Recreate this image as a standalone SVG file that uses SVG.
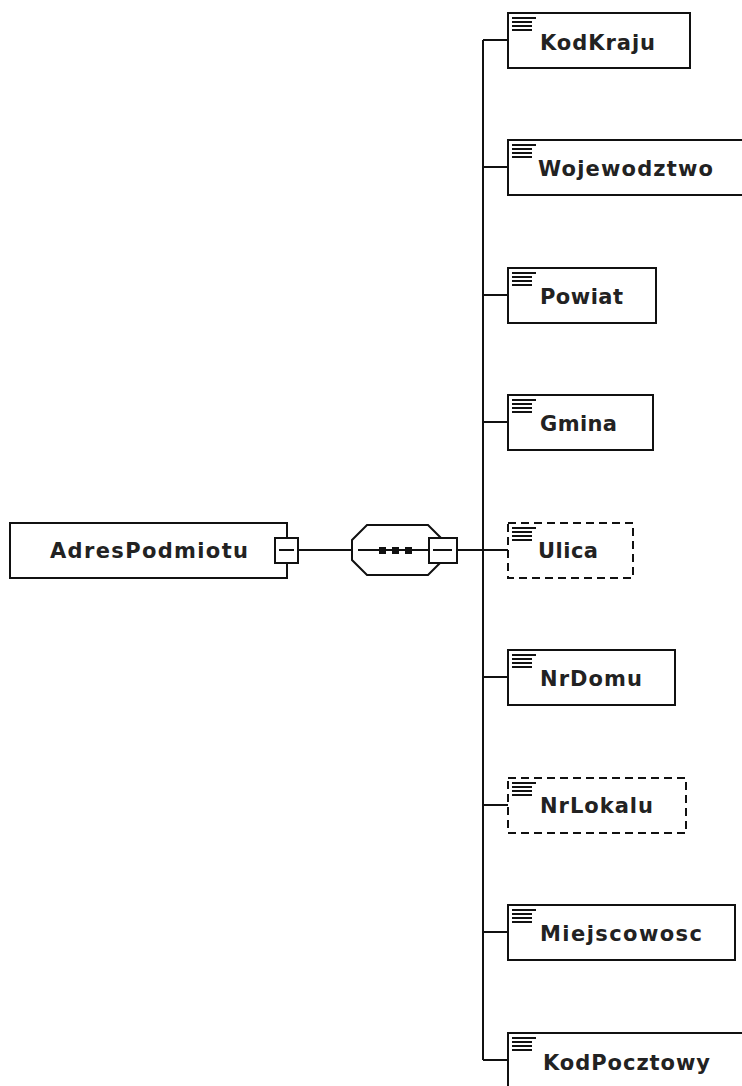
<svg xmlns="http://www.w3.org/2000/svg" width="742" height="1086" viewBox="0 0 742 1086">
<style>
.box{fill:#fff;stroke:#111;stroke-width:2}
.opt{fill:#fff;stroke:#111;stroke-width:2;stroke-dasharray:8 5}
.ln{fill:none;stroke:#111;stroke-width:2}
.ic{stroke:#111;stroke-width:2}
.t{font-family:"DejaVu Sans",Verdana,sans-serif;font-weight:bold;font-size:21px;fill:#222}
</style>
<defs>
<g id="icon"><path class="ic" d="M4 5H28M4 9H24M4 13H24M4 17H24"/></g>
</defs>
<rect width="742" height="1086" fill="#fff"/>
<g id="connectors">
<path class="ln" d="M298 550H352M457 550H508M483 40V1060M483 40H508M483 167H508M483 295H508M483 422H508M483 677H508M483 805H508M483 932H508M483 1060H508"/>
</g>
<g id="AdresPodmiotu">
<rect class="box" x="10" y="523" width="277" height="55"/>
<text class="t" x="50" y="558" textLength="198" lengthAdjust="spacing">AdresPodmiotu</text>
<rect class="box" x="275" y="538" width="23" height="25"/>
<path class="ln" d="M279 550H294"/>
</g>
<g id="sequence">
<polygon class="box" points="352,540 367,525 428,525 443,540 443,560 428,575 367,575 352,560"/>
<path class="ln" d="M358 550H429"/>
<rect x="379" y="547" width="7" height="7" fill="#111"/>
<rect x="392" y="547" width="7" height="7" fill="#111"/>
<rect x="405" y="547" width="7" height="7" fill="#111"/>
<rect class="box" x="429" y="538" width="28" height="25"/>
<path class="ln" d="M433 550H452"/>
</g>
<g id="KodKraju">
<rect class="box" x="508" y="13" width="182" height="55"/>
<use href="#icon" x="508" y="13"/>
<text class="t" x="540" y="50" textLength="115" lengthAdjust="spacing">KodKraju</text>
</g>
<g id="Wojewodztwo">
<rect class="box" x="508" y="140" width="240" height="55"/>
<use href="#icon" x="508" y="140"/>
<text class="t" x="538" y="176" textLength="175" lengthAdjust="spacing">Wojewodztwo</text>
</g>
<g id="Powiat">
<rect class="box" x="508" y="268" width="148" height="55"/>
<use href="#icon" x="508" y="268"/>
<text class="t" x="540" y="304" textLength="83" lengthAdjust="spacing">Powiat</text>
</g>
<g id="Gmina">
<rect class="box" x="508" y="395" width="145" height="55"/>
<use href="#icon" x="508" y="395"/>
<text class="t" x="540" y="431" textLength="77" lengthAdjust="spacing">Gmina</text>
</g>
<g id="Ulica">
<rect class="opt" x="508" y="523" width="125" height="55"/>
<use href="#icon" x="508" y="523"/>
<text class="t" x="538" y="558" textLength="60" lengthAdjust="spacing">Ulica</text>
</g>
<g id="NrDomu">
<rect class="box" x="508" y="650" width="167" height="55"/>
<use href="#icon" x="508" y="650"/>
<text class="t" x="540" y="686" textLength="102" lengthAdjust="spacing">NrDomu</text>
</g>
<g id="NrLokalu">
<rect class="opt" x="508" y="778" width="178" height="55"/>
<use href="#icon" x="508" y="778"/>
<text class="t" x="540" y="813" textLength="113" lengthAdjust="spacing">NrLokalu</text>
</g>
<g id="Miejscowosc">
<rect class="box" x="508" y="905" width="227" height="55"/>
<use href="#icon" x="508" y="905"/>
<text class="t" x="540" y="941" textLength="162" lengthAdjust="spacing">Miejscowosc</text>
</g>
<g id="KodPocztowy">
<rect class="box" x="508" y="1033" width="240" height="55"/>
<use href="#icon" x="508" y="1033"/>
<text class="t" x="543" y="1070" textLength="167" lengthAdjust="spacing">KodPocztowy</text>
</g>
</svg>
